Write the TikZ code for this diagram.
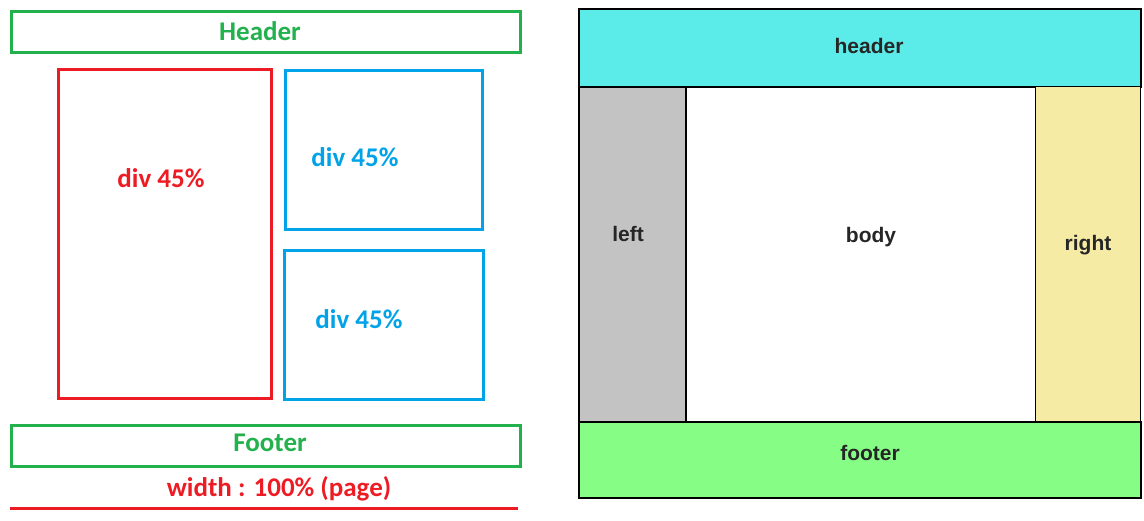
\documentclass[tikz,border=0pt]{standalone}
\usepackage{fontspec}
\setmainfont{Carlito}
\newfontfamily\pagefont{Liberation Sans}
\definecolor{pgreen}{HTML}{22B14C}
\definecolor{pred}{HTML}{ED1C24}
\definecolor{pblue}{HTML}{00A2E8}
\definecolor{hcyan}{HTML}{5BEBE9}
\definecolor{lgray}{HTML}{C3C3C3}
\definecolor{ryellow}{HTML}{F5EBA5}
\definecolor{fgreen}{HTML}{86FE86}
\begin{document}
\begin{tikzpicture}[x=1pt,y=-1pt]
    \tikzstyle{box}=[draw,rectangle,anchor=north west,inner sep=0pt,line width=3pt]
    \tikzstyle{lbl}=[font=\fontsize{27}{31}\selectfont\bfseries]
    \tikzstyle{part}=[draw=black,rectangle,anchor=north west,inner sep=0pt,line width=2pt]
    \tikzstyle{word}=[font=\pagefont\fontsize{21}{24}\selectfont\bfseries,text=black!85]

    \useasboundingbox (0,0) rectangle (1144,520);

    % left: boxes of the page
    \node[box,draw=pgreen,minimum width=509pt,minimum height=41pt] (header) at (10,10) {};
    \node[box,draw=pred,minimum width=213pt,minimum height=329pt]  (divl)   at (57,68) {};
    \node[box,draw=pblue,minimum width=197pt,minimum height=159pt] (divt)   at (284,69) {};
    \node[box,draw=pblue,minimum width=199pt,minimum height=149pt] (divb)   at (283,249) {};
    \node[box,draw=pgreen,minimum width=509pt,minimum height=41pt] (footer) at (10,424) {};

    \node[lbl,text=pgreen] (theader) at (260,31)  {Header};
    \node[lbl,text=pred]   (tdivl)   at (161,178) {div 45\%};
    \node[lbl,text=pblue]  (tdivt)   at (355,157) {div 45\%};
    \node[lbl,text=pblue]  (tdivb)   at (359,319) {div 45\%};
    \node[lbl,text=pgreen] (tfooter) at (270,443) {Footer};
    \node[lbl,text=pred]   (twidth)  at (279,489) {width : 100\% (page)};

    \coordinate (wl) at (10,508);
    \coordinate (wr) at (518,508);
    \draw[pred,line width=3pt] (wl) -- (wr);

    % right: page parts
    \node[part,fill=hcyan,minimum width=562pt,minimum height=78pt]  (phead)  at (578,8) {};
    \node[part,fill=lgray,minimum width=107pt,minimum height=335pt] (pleft)  at (578,86) {};
    \node[part,fill=white,minimum width=350pt,minimum height=335pt] (pbody)  at (685,86) {};
    \node[part,fill=ryellow,line width=1pt,minimum width=105pt,minimum height=335pt] (pright) at (1035,86) {};
    \node[part,fill=fgreen,minimum width=562pt,minimum height=76pt] (pfoot)  at (578,421) {};

    \node[word] (thead)  at (869,46)  {header};
    \node[word] (tleft)  at (628,234) {left};
    \node[word] (tbody)  at (871,237) {body};
    \node[word] (tright) at (1088,245) {right};
    \node[word] (tfoot)  at (870,453) {footer};

\end{tikzpicture}
\end{document}
